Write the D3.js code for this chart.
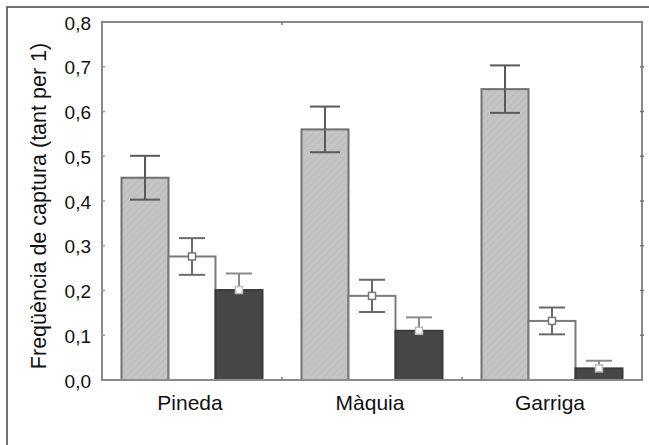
<!DOCTYPE html>
<html>
<head>
<meta charset="utf-8">
<script src="https://cdn.jsdelivr.net/npm/d3@7"></script>
<style>
    body { margin: 0; background: #fff; }
    text { font-family: Arial, "Liberation Sans", sans-serif; fill: #111; }
</style>
</head>
<body>
<svg width="649" height="445"></svg>
<script>
    // habitats and series
    var habitats = ["Pineda", "Màquia", "Garriga"];
    var series = ["gris", "blanc", "negre"];

    // mean capture frequency per series (same order as habitats)
    var gris  = [0.452, 0.560, 0.650];
    var blanc = [0.276, 0.188, 0.132];
    var negre = [0.201, 0.110, 0.026];

    // error bar half-widths
    var errGris  = [0.049, 0.051, 0.053];
    var errBlanc = [0.041, 0.036, 0.030];
    var errNegre = [0.037, 0.030, 0.017];

    var yTicks = [0, 0.1, 0.2, 0.3, 0.4, 0.5, 0.6, 0.7, 0.8];

    var svg = d3.select("svg");
    var margin = {left: 102, top: 22, right: 7, bottom: 65};
    var W = 649, H = 445;

    var x0 = d3.scaleBand().domain(habitats).range([margin.left, W - margin.right]).padding(0);
    var x1 = d3.scaleBand().domain(series).range([0, x0.bandwidth()]).paddingInner(0).paddingOuter(0.415);
    var y = d3.scaleLinear().domain([0, 0.8]).range([H - margin.bottom, margin.top]);

    var defs = svg.append("defs");
    var pat = defs.append("pattern")
        .attr("id", "hatch")
        .attr("patternUnits", "userSpaceOnUse")
        .attr("width", 5).attr("height", 5)
        .attr("patternTransform", "rotate(45)");
    pat.append("rect").attr("width", 5).attr("height", 5).attr("fill", "#c4c4c4");
    pat.append("line").attr("x1", 0).attr("y1", 0).attr("x2", 0).attr("y2", 5)
        .attr("stroke", "#b9b9b9").attr("stroke-width", 1.2);

    // outer frame (left and top only)
    svg.append("path").attr("d", "M7,445V7H649")
        .attr("fill", "none").attr("stroke", "#444").attr("stroke-width", 1.5);

    var rows = habitats.map(function(h, i) {
        return [
            {h: h, s: "gris", v: gris[i], e: errGris[i]},
            {h: h, s: "blanc", v: blanc[i], e: errBlanc[i]},
            {h: h, s: "negre", v: negre[i], e: errNegre[i]}
        ];
    });
    var flat = [].concat.apply([], rows);

    var fills = {gris: "url(#hatch)", blanc: "#fff", negre: "#464646"};
    var strokes = {gris: "#707070", blanc: "#7a7a7a", negre: "#3a3a3a"};

    svg.selectAll(".bar").data(flat).enter().append("rect")
        .attr("class", "bar")
        .attr("x", function(d) { return x0(d.h) + x1(d.s); })
        .attr("y", function(d) { return y(d.v); })
        .attr("width", x1.bandwidth())
        .attr("height", function(d) { return y(0) - y(d.v); })
        .attr("fill", function(d) { return fills[d.s]; })
        .attr("stroke", function(d) { return strokes[d.s]; })
        .attr("stroke-width", 2);

    // frame of plot area
    svg.append("rect")
        .attr("x", margin.left).attr("y", margin.top)
        .attr("width", W - margin.right - margin.left)
        .attr("height", y(0) - margin.top)
        .attr("fill", "none").attr("stroke", "#8a8a8a").attr("stroke-width", 2);

    // ticks inside frame
    var xr = W - margin.right;
    svg.selectAll(".ytl").data(yTicks.slice(1, -1)).enter().append("line")
        .attr("x1", margin.left).attr("x2", margin.left + 3)
        .attr("y1", function(d) { return y(d); }).attr("y2", function(d) { return y(d); })
        .attr("stroke", "#999").attr("stroke-width", 1.5);
    svg.selectAll(".ytr").data(yTicks.slice(1, -1)).enter().append("line")
        .attr("x1", xr - 2).attr("x2", xr + 2)
        .attr("y1", function(d) { return y(d); }).attr("y2", function(d) { return y(d); })
        .attr("stroke", "#777").attr("stroke-width", 1.5);
    var bounds = habitats.slice(1).map(function(h) { return x0(h); });
    svg.selectAll(".xtb").data(bounds).enter().append("line")
        .attr("x1", function(d) { return d; }).attr("x2", function(d) { return d; })
        .attr("y1", y(0) - 3).attr("y2", y(0))
        .attr("stroke", "#777").attr("stroke-width", 1.5);
    svg.selectAll(".xtt").data(bounds.slice(0, 1)).enter().append("line")
        .attr("x1", function(d) { return d; }).attr("x2", function(d) { return d; })
        .attr("y1", margin.top).attr("y2", margin.top + 3)
        .attr("stroke", "#777").attr("stroke-width", 1.5);

    // error bars
    var errCol = {gris: "#5a5a5a", blanc: "#6a6a6a", negre: "#8a8a8a"};
    var capW = {gris: 30, blanc: 26, negre: 26};
    var eb = svg.selectAll(".err").data(flat).enter().append("g")
        .attr("transform", function(d) { return "translate(" + (x0(d.h) + x1(d.s) + x1.bandwidth() / 2) + ",0)"; });
    eb.append("line")
        .attr("y1", function(d) { return y(d.v + d.e); })
        .attr("y2", function(d) { return d.s === "negre" ? y(d.v) : y(d.v - d.e); })
        .attr("stroke", function(d) { return errCol[d.s]; }).attr("stroke-width", 2);
    eb.append("line").attr("class", "cap")
        .attr("x1", function(d) { return -capW[d.s] / 2; }).attr("x2", function(d) { return capW[d.s] / 2; })
        .attr("y1", function(d) { return y(d.v + d.e); }).attr("y2", function(d) { return y(d.v + d.e); })
        .attr("stroke", function(d) { return errCol[d.s]; }).attr("stroke-width", 2);
    eb.filter(function(d) { return d.s !== "negre"; }).append("line")
        .attr("x1", function(d) { return -capW[d.s] / 2; }).attr("x2", function(d) { return capW[d.s] / 2; })
        .attr("y1", function(d) { return y(d.v - d.e); }).attr("y2", function(d) { return y(d.v - d.e); })
        .attr("stroke", function(d) { return errCol[d.s]; }).attr("stroke-width", 2);
    // mean markers
    eb.filter(function(d) { return d.s !== "gris"; }).append("rect")
        .attr("x", -3.5).attr("y", function(d) { return y(d.v) - 3.5; })
        .attr("width", 7).attr("height", 7)
        .attr("fill", "#fff")
        .attr("stroke", function(d) { return d.s === "negre" ? "#bbb" : "#777"; })
        .attr("stroke-width", 1.5);

    // y tick labels
    svg.selectAll(".ylab").data(yTicks).enter().append("text")
        .attr("x", 91).attr("y", function(d) { return y(d) + 1; })
        .attr("dy", "0.35em")
        .attr("text-anchor", "end")
        .style("font-size", "19px")
        .text(function(d) { return d3.format(".1f")(d).replace(".", ","); });

    // x labels
    svg.selectAll(".xlab").data(habitats).enter().append("text")
        .attr("x", function(d) { return x0(d) + x0.bandwidth() / 2 - 2; })
        .attr("y", 410)
        .attr("text-anchor", "middle")
        .style("font-size", "21px")
        .text(function(d) { return d; });

    svg.append("text")
        .attr("transform", "translate(46,206) rotate(-90)")
        .attr("text-anchor", "middle")
        .style("font-size", "21.5px")
        .text("Freqüència de captura (tant per 1)");
</script>
</body>
</html>
